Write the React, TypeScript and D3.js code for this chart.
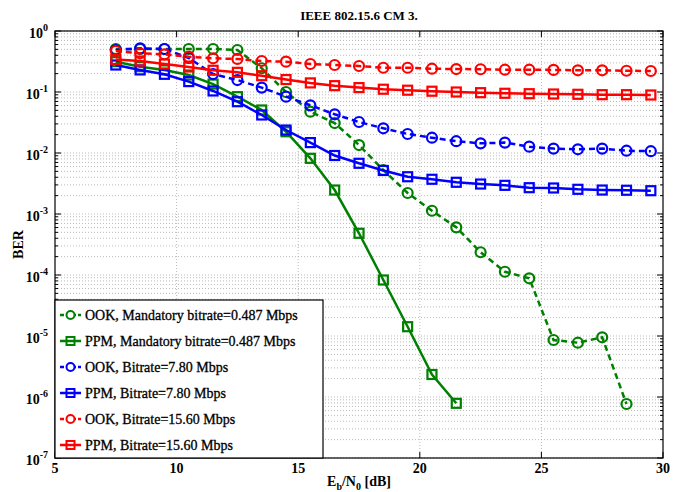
import React, { useEffect, useRef } from "react";
import * as d3 from "d3";

const EBN0 = [7.5, 8.5, 9.5, 10.5, 11.5, 12.5, 13.5, 14.5, 15.5, 16.5, 17.5, 18.5, 19.5, 20.5, 21.5, 22.5, 23.5, 24.5, 25.5, 26.5, 27.5, 28.5, 29.5];

const OOK_MAND = [0.507, 0.507, 0.507, 0.507, 0.507, 0.488, 0.245, 0.1, 0.0475, 0.031, 0.0135, 0.00526, 0.00221, 0.00113, 6.05e-4, 2.36e-4, 1.13e-4, 8.83e-5, 8.6e-6, 7.76e-6, 9.52e-6, 7.68e-7];
const PPM_MAND = [0.314, 0.26, 0.23, 0.19, 0.135, 0.0838, 0.0507, 0.0223, 0.00818, 0.00247, 4.83e-4, 8.28e-5, 1.42e-5, 2.34e-6, 7.88e-7];
const OOK_780 = [0.488, 0.52, 0.507, 0.361, 0.197, 0.157, 0.118, 0.0838, 0.0605, 0.0431, 0.0322, 0.0254, 0.0205, 0.0178, 0.0156, 0.0144, 0.0148, 0.0127, 0.0118, 0.0115, 0.0118, 0.0109, 0.0107];
const PPM_780 = [0.277, 0.23, 0.195, 0.148, 0.104, 0.0693, 0.042, 0.0238, 0.0148, 0.0091, 0.00678, 0.00517, 0.00408, 0.00371, 0.00331, 0.0031, 0.00295, 0.0027, 0.00267, 0.00254, 0.00247, 0.00245, 0.00241];
const OOK_1560 = [0.47, 0.431, 0.415, 0.379, 0.357, 0.348, 0.322, 0.314, 0.288, 0.277, 0.267, 0.25, 0.25, 0.241, 0.238, 0.236, 0.232, 0.232, 0.23, 0.227, 0.227, 0.223, 0.221];
const PPM_1560 = [0.341, 0.322, 0.288, 0.257, 0.227, 0.21, 0.185, 0.16, 0.141, 0.127, 0.118, 0.111, 0.107, 0.103, 0.1, 0.0975, 0.0953, 0.0938, 0.0927, 0.0917, 0.0904, 0.0904, 0.0893];

const SERIES = [
  { name: "OOK, Mandatory bitrate=0.487 Mbps", values: OOK_MAND, color: "#008000", dashed: true, marker: "circle" },
  { name: "PPM, Mandatory bitrate=0.487 Mbps", values: PPM_MAND, color: "#008000", dashed: false, marker: "square" },
  { name: "OOK, Bitrate=7.80 Mbps", values: OOK_780, color: "#0000ff", dashed: true, marker: "circle" },
  { name: "PPM, Bitrate=7.80 Mbps", values: PPM_780, color: "#0000ff", dashed: false, marker: "square" },
  { name: "OOK, Bitrate=15.60 Mbps", values: OOK_1560, color: "#ff0000", dashed: true, marker: "circle" },
  { name: "PPM, Bitrate=15.60 Mbps", values: PPM_1560, color: "#ff0000", dashed: false, marker: "square" },
];

const X_TICKS = [5, 10, 15, 20, 25, 30];
const Y_EXPONENTS = [0, -1, -2, -3, -4, -5, -6, -7];

const FONT = "'Liberation Serif', 'Times New Roman', serif";

export default function App() {
  const svgRef = useRef<SVGSVGElement>(null);

  useEffect(() => {
    document.body.style.margin = "0";
    const width = 686, height = 492;
    const left = 55, right = 663, top = 31, bottom = 458;

    const svg = d3.select(svgRef.current);
    svg.selectAll("*").remove();
    svg.attr("width", width).attr("height", height);

    svg.append("rect").attr("width", width).attr("height", height).attr("fill", "#fff");

    const x = d3.scaleLinear().domain([5, 30]).range([left, right]);
    const y = d3.scaleLog().domain([1e-7, 1]).range([bottom, top]);

    const grid = svg.append("g").attr("stroke", "#a8a8a8").attr("stroke-width", 0.8).attr("stroke-dasharray", "1,2");

    // minor + major y grid
    const minorY: number[] = [];
    const majorY = Y_EXPONENTS.map(e => Math.pow(10, e));
    for (let e = -7; e < 0; e++) for (let m = 2; m <= 9; m++) minorY.push(m * Math.pow(10, e));
    grid.selectAll(".gy")
      .data([...majorY, ...minorY])
      .join("line")
      .attr("x1", left).attr("x2", right)
      .attr("y1", d => y(d)).attr("y2", d => y(d));
    grid.selectAll(".gx")
      .data(X_TICKS.slice(1, -1))
      .join("line")
      .attr("x1", d => x(d)).attr("x2", d => x(d))
      .attr("y1", top).attr("y2", bottom);

    // Ticks
    const ticks = svg.append("g").attr("stroke", "#000").attr("stroke-width", 1);
    X_TICKS.forEach(t => {
      ticks.append("line").attr("x1", x(t)).attr("x2", x(t)).attr("y1", bottom).attr("y2", bottom - 6);
      ticks.append("line").attr("x1", x(t)).attr("x2", x(t)).attr("y1", top).attr("y2", top + 6);
    });
    majorY.forEach(v => {
      ticks.append("line").attr("x1", left).attr("x2", left + 6).attr("y1", y(v)).attr("y2", y(v));
      ticks.append("line").attr("x1", right).attr("x2", right - 6).attr("y1", y(v)).attr("y2", y(v));
    });
    minorY.forEach(v => {
      ticks.append("line").attr("x1", left).attr("x2", left + 3).attr("y1", y(v)).attr("y2", y(v));
      ticks.append("line").attr("x1", right).attr("x2", right - 3).attr("y1", y(v)).attr("y2", y(v));
    });

    // Series
    const plot = svg.append("g");
    const line = d3.line<number>().x((_, i) => x(EBN0[i])).y(d => y(d));

    SERIES.forEach(s => {
      plot.append("path")
        .attr("d", line(s.values))
        .attr("fill", "none")
        .attr("stroke", s.color)
        .attr("stroke-width", 2.5)
        .attr("stroke-dasharray", s.dashed ? "6,4" : null);
      const pts = s.values.map((v, i) => [x(EBN0[i]), y(v)]);
      if (s.marker === "circle") {
        plot.selectAll(null).data(pts).join("circle")
          .attr("cx", d => d[0]).attr("cy", d => d[1]).attr("r", 5)
          .attr("fill", "none").attr("stroke", s.color).attr("stroke-width", 2.2);
      } else {
        plot.selectAll(null).data(pts).join("rect")
          .attr("x", d => d[0] - 4.5).attr("y", d => d[1] - 4.5)
          .attr("width", 9).attr("height", 9)
          .attr("fill", "none").attr("stroke", s.color).attr("stroke-width", 2.2);
      }
    });

    // Box
    svg.append("rect")
      .attr("x", left).attr("y", top).attr("width", right - left).attr("height", bottom - top)
      .attr("fill", "none").attr("stroke", "#000").attr("stroke-width", 1.2);

    // Tick labels
    const labels = svg.append("g").attr("font-family", FONT).attr("fill", "#000");
    X_TICKS.forEach(t => {
      labels.append("text").attr("x", x(t)).attr("y", bottom + 15)
        .attr("text-anchor", "middle").attr("font-size", 14).attr("font-weight", "bold").text(t);
    });
    Y_EXPONENTS.forEach(e => {
      const ty = y(Math.pow(10, e));
      const t = labels.append("text").attr("x", 48).attr("y", ty + 7)
        .attr("text-anchor", "end").attr("font-weight", "bold");
      t.append("tspan").attr("font-size", 14).text("10");
      t.append("tspan").attr("font-size", 10).attr("dy", -7).text(String(e));
    });

    // Title
    svg.append("text").attr("x", (left + right) / 2).attr("y", 20)
      .attr("text-anchor", "middle").attr("font-family", FONT)
      .attr("font-size", 13).attr("font-weight", "bold").text("IEEE 802.15.6 CM 3.");

    // Axis labels
    const xl = svg.append("text").attr("x", (left + right) / 2).attr("y", 486)
      .attr("text-anchor", "middle").attr("font-family", FONT)
      .attr("font-size", 14).attr("font-weight", "bold");
    xl.append("tspan").text("E");
    xl.append("tspan").attr("font-size", 10).attr("dy", 4).text("b");
    xl.append("tspan").attr("dy", -4).text("/N");
    xl.append("tspan").attr("font-size", 10).attr("dy", 4).text("0");
    xl.append("tspan").attr("dy", -4).text(" [dB]");

    svg.append("text").attr("transform", `translate(23,${(top + bottom) / 2}) rotate(-90)`)
      .attr("text-anchor", "middle").attr("font-family", FONT)
      .attr("font-size", 14).attr("font-weight", "bold").text("BER");

    // Legend
    const lg = svg.append("g");
    lg.append("rect").attr("x", left).attr("y", 300).attr("width", 268).attr("height", bottom - 300)
      .attr("fill", "#fff").attr("stroke", "#000").attr("stroke-width", 1.2);
    SERIES.forEach((s, i) => {
      const cy = 315 + i * 26;
      lg.append("line").attr("x1", 60).attr("x2", 81).attr("y1", cy).attr("y2", cy)
        .attr("stroke", s.color).attr("stroke-width", 2.5)
        .attr("stroke-dasharray", s.dashed ? "4,2" : null);
      if (s.marker === "circle") {
        lg.append("circle").attr("cx", 70.5).attr("cy", cy).attr("r", 4)
          .attr("fill", "#fff").attr("stroke", s.color).attr("stroke-width", 2);
      } else {
        lg.append("rect").attr("x", 66.5).attr("y", cy - 4).attr("width", 8).attr("height", 8)
          .attr("fill", "none").attr("stroke", s.color).attr("stroke-width", 2);
      }
      lg.append("text").attr("x", 85).attr("y", cy + 5)
        .attr("font-family", FONT).attr("font-size", 14)
        .attr("stroke", "#000").attr("stroke-width", 0.3)
        .text(s.name);
    });
  }, []);

  return <svg ref={svgRef} style={{ display: "block" }} />;
}
